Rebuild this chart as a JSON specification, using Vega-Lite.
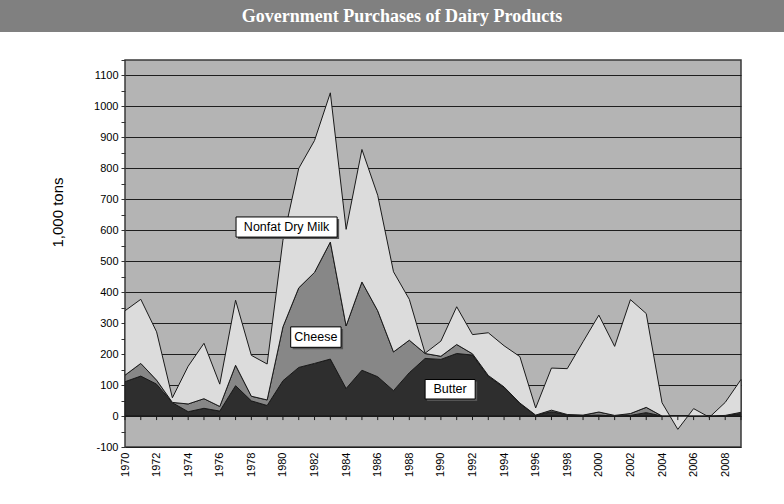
{
  "$schema": "https://vega.github.io/schema/vega-lite/v6.json",
  "padding": 0,
  "background": "white",
  "bounds": "flush",
  "spacing": 28,
  "config": {"view": {"stroke": null}, "font": "Liberation Sans", "axis": {"labelOverlap": false}},
  "datasets": {
    "dairy": [
      {"year":1970,"product":"Butter","tons":111},{"year":1970,"product":"Cheese","tons":21},{"year":1970,"product":"Nonfat Dry Milk","tons":208},
      {"year":1971,"product":"Butter","tons":129},{"year":1971,"product":"Cheese","tons":41},{"year":1971,"product":"Nonfat Dry Milk","tons":207},
      {"year":1972,"product":"Butter","tons":103},{"year":1972,"product":"Cheese","tons":13},{"year":1972,"product":"Nonfat Dry Milk","tons":156},
      {"year":1973,"product":"Butter","tons":43},{"year":1973,"product":"Cheese","tons":1},{"year":1973,"product":"Nonfat Dry Milk","tons":15},
      {"year":1974,"product":"Butter","tons":14},{"year":1974,"product":"Cheese","tons":25},{"year":1974,"product":"Nonfat Dry Milk","tons":122},
      {"year":1975,"product":"Butter","tons":25},{"year":1975,"product":"Cheese","tons":31},{"year":1975,"product":"Nonfat Dry Milk","tons":179},
      {"year":1976,"product":"Butter","tons":16},{"year":1976,"product":"Cheese","tons":15},{"year":1976,"product":"Nonfat Dry Milk","tons":72},
      {"year":1977,"product":"Butter","tons":98},{"year":1977,"product":"Cheese","tons":66},{"year":1977,"product":"Nonfat Dry Milk","tons":210},
      {"year":1978,"product":"Butter","tons":49},{"year":1978,"product":"Cheese","tons":15},{"year":1978,"product":"Nonfat Dry Milk","tons":132},
      {"year":1979,"product":"Butter","tons":34},{"year":1979,"product":"Cheese","tons":18},{"year":1979,"product":"Nonfat Dry Milk","tons":116},
      {"year":1980,"product":"Butter","tons":114},{"year":1980,"product":"Cheese","tons":174},{"year":1980,"product":"Nonfat Dry Milk","tons":280},
      {"year":1981,"product":"Butter","tons":157},{"year":1981,"product":"Cheese","tons":257},{"year":1981,"product":"Nonfat Dry Milk","tons":386},
      {"year":1982,"product":"Butter","tons":170},{"year":1982,"product":"Cheese","tons":294},{"year":1982,"product":"Nonfat Dry Milk","tons":426},
      {"year":1983,"product":"Butter","tons":184},{"year":1983,"product":"Cheese","tons":378},{"year":1983,"product":"Nonfat Dry Milk","tons":482},
      {"year":1984,"product":"Butter","tons":89},{"year":1984,"product":"Cheese","tons":202},{"year":1984,"product":"Nonfat Dry Milk","tons":312},
      {"year":1985,"product":"Butter","tons":148},{"year":1985,"product":"Cheese","tons":285},{"year":1985,"product":"Nonfat Dry Milk","tons":428},
      {"year":1986,"product":"Butter","tons":127},{"year":1986,"product":"Cheese","tons":213},{"year":1986,"product":"Nonfat Dry Milk","tons":373},
      {"year":1987,"product":"Butter","tons":82},{"year":1987,"product":"Cheese","tons":125},{"year":1987,"product":"Nonfat Dry Milk","tons":259},
      {"year":1988,"product":"Butter","tons":140},{"year":1988,"product":"Cheese","tons":105},{"year":1988,"product":"Nonfat Dry Milk","tons":132},
      {"year":1989,"product":"Butter","tons":186},{"year":1989,"product":"Cheese","tons":16},{"year":1989,"product":"Nonfat Dry Milk","tons":1},
      {"year":1990,"product":"Butter","tons":183},{"year":1990,"product":"Cheese","tons":10},{"year":1990,"product":"Nonfat Dry Milk","tons":49},
      {"year":1991,"product":"Butter","tons":202},{"year":1991,"product":"Cheese","tons":29},{"year":1991,"product":"Nonfat Dry Milk","tons":122},
      {"year":1992,"product":"Butter","tons":197},{"year":1992,"product":"Cheese","tons":4},{"year":1992,"product":"Nonfat Dry Milk","tons":62},
      {"year":1993,"product":"Butter","tons":128},{"year":1993,"product":"Cheese","tons":3},{"year":1993,"product":"Nonfat Dry Milk","tons":138},
      {"year":1994,"product":"Butter","tons":92},{"year":1994,"product":"Cheese","tons":2},{"year":1994,"product":"Nonfat Dry Milk","tons":133},
      {"year":1995,"product":"Butter","tons":41},{"year":1995,"product":"Cheese","tons":1},{"year":1995,"product":"Nonfat Dry Milk","tons":150},
      {"year":1996,"product":"Butter","tons":2},{"year":1996,"product":"Cheese","tons":1},{"year":1996,"product":"Nonfat Dry Milk","tons":23},
      {"year":1997,"product":"Butter","tons":14},{"year":1997,"product":"Cheese","tons":5},{"year":1997,"product":"Nonfat Dry Milk","tons":136},
      {"year":1998,"product":"Butter","tons":4},{"year":1998,"product":"Cheese","tons":1},{"year":1998,"product":"Nonfat Dry Milk","tons":148},
      {"year":1999,"product":"Butter","tons":2},{"year":1999,"product":"Cheese","tons":1},{"year":1999,"product":"Nonfat Dry Milk","tons":237},
      {"year":2000,"product":"Butter","tons":3},{"year":2000,"product":"Cheese","tons":10},{"year":2000,"product":"Nonfat Dry Milk","tons":313},
      {"year":2001,"product":"Butter","tons":0},{"year":2001,"product":"Cheese","tons":2},{"year":2001,"product":"Nonfat Dry Milk","tons":223},
      {"year":2002,"product":"Butter","tons":2},{"year":2002,"product":"Cheese","tons":6},{"year":2002,"product":"Nonfat Dry Milk","tons":368},
      {"year":2003,"product":"Butter","tons":11},{"year":2003,"product":"Cheese","tons":17},{"year":2003,"product":"Nonfat Dry Milk","tons":303},
      {"year":2004,"product":"Butter","tons":0},{"year":2004,"product":"Cheese","tons":0},{"year":2004,"product":"Nonfat Dry Milk","tons":43},
      {"year":2005,"product":"Butter","tons":0},{"year":2005,"product":"Cheese","tons":0},{"year":2005,"product":"Nonfat Dry Milk","tons":-43},
      {"year":2006,"product":"Butter","tons":0},{"year":2006,"product":"Cheese","tons":0},{"year":2006,"product":"Nonfat Dry Milk","tons":24},
      {"year":2007,"product":"Butter","tons":0},{"year":2007,"product":"Cheese","tons":0},{"year":2007,"product":"Nonfat Dry Milk","tons":-4},
      {"year":2008,"product":"Butter","tons":1},{"year":2008,"product":"Cheese","tons":1},{"year":2008,"product":"Nonfat Dry Milk","tons":42},
      {"year":2009,"product":"Butter","tons":8},{"year":2009,"product":"Cheese","tons":4},{"year":2009,"product":"Nonfat Dry Milk","tons":106}
    ],
    "labels": [
      {"label":"Nonfat Dry Milk","x1":1977.03,"x2":1983.43,"y1":578,"y2":643,"xc":1980.23,"yc":610},
      {"label":"Cheese","x1":1980.49,"x2":1983.68,"y1":222,"y2":288,"xc":1982.08,"yc":255},
      {"label":"Butter","x1":1989.0,"x2":1992.17,"y1":55,"y2":118,"xc":1990.58,"yc":86}
    ]
  },
  "vconcat": [
    {
      "width": 784,
      "height": 32,
      "view": {"fill": "#808080", "stroke": null},
      "data": {"values": [{"title": "Government Purchases of Dairy Products"}]},
      "mark": {"type": "text", "font": "Liberation Serif", "fontWeight": "bold", "fontSize": 18, "color": "white", "dx": 10, "dy": 1},
      "encoding": {"text": {"field": "title"}}
    },
    {
      "hconcat": [
        {
          "width": 125,
          "height": 387,
          "view": {"stroke": null},
          "data": {"values": []},
          "mark": "point"
        },
        {
          "width": 616,
          "height": 387,
          "view": {"fill": "#b4b4b4", "stroke": "#3a3a3a", "strokeWidth": 1.5},
          "layer": [
            {
              "data": {"name": "dairy"},
              "mark": {"type": "area", "opacity": 1, "fillOpacity": 1, "stroke": "#1a1a1a", "strokeWidth": 1, "strokeJoin": "miter"},
              "encoding": {
                "x": {
                  "field": "year", "type": "quantitative",
                  "scale": {"domain": [1970, 2009], "nice": false, "zero": false},
                  "axis": {
                    "title": null,
                    "values": [1970,1972,1974,1976,1978,1980,1982,1984,1986,1988,1990,1992,1994,1996,1998,2000,2002,2004,2006,2008],
                    "tickCount": 100,
                    "labelExpr": "'' + datum.value",
                    "labelOverlap": false,
                    "labelAngle": -90,
                    "labelAlign": "right",
                    "labelBaseline": "middle",
                    "labelFontSize": 11,
                    "labelColor": "#000",
                    "labelPadding": 5,
                    "ticks": false,
                    "domain": false,
                    "grid": false
                  }
                },
                "y": {
                  "field": "tons", "type": "quantitative", "stack": "zero",
                  "scale": {"domain": [-100, 1150], "nice": false, "zero": false},
                  "axis": {
                    "title": "1,000 tons",
                    "titleFontSize": 15,
                    "titleFontWeight": "normal",
                    "titleColor": "#000",
                    "titleX": -60,
                    "titleY": 152,
                    "values": [-100,-50,0,50,100,150,200,250,300,350,400,450,500,550,600,650,700,750,800,850,900,950,1000,1050,1100,1150],
                    "tickCount": 100,
                    "labelExpr": "datum.value % 100 === 0 && datum.value <= 1100 ? '' + datum.value : ''",
                    "labelOverlap": false,
                    "labelFontSize": 11,
                    "labelColor": "#000",
                    "labelPadding": 3,
                    "tickSize": 4,
                    "tickColor": "#333",
                    "domain": false,
                    "grid": true,
                    "gridColor": "#1e1e1e",
                    "gridWidth": 1,
                    "gridOpacity": {"condition": {"test": "datum.value % 100 !== 0", "value": 0}, "value": 1}
                  }
                },
                "fill": {
                  "field": "product", "type": "nominal",
                  "scale": {"domain": ["Butter", "Cheese", "Nonfat Dry Milk"], "range": ["#2e2e2e", "#878787", "#dcdcdc"]},
                  "legend": null
                },
                "order": {"field": "product", "sort": "ascending"}
              }
            },
            {
              "data": {"values": [{"v": 0}]},
              "mark": {"type": "rule", "color": "#1a1a1a", "strokeWidth": 1},
              "encoding": {"y": {"field": "v", "type": "quantitative"}}
            },
            {
              "data": {"name": "dairy"},
              "transform": [{"filter": "datum.product === 'Butter'"}],
              "mark": {"type": "rule", "color": "#1a1a1a", "strokeWidth": 1},
              "encoding": {
                "x": {"field": "year", "type": "quantitative"},
                "y": {"datum": 0},
                "y2": {"datum": -13}
              }
            },
            {
              "data": {"name": "labels"},
              "mark": {"type": "rect", "fill": "#555555", "xOffset": 2, "x2Offset": 2, "yOffset": 2, "y2Offset": 2},
              "encoding": {
                "x": {"field": "x1", "type": "quantitative"},
                "x2": {"field": "x2"},
                "y": {"field": "y1", "type": "quantitative"},
                "y2": {"field": "y2"}
              }
            },
            {
              "data": {"name": "labels"},
              "mark": {"type": "rect", "fill": "white", "stroke": "#000", "strokeWidth": 1},
              "encoding": {
                "x": {"field": "x1", "type": "quantitative"},
                "x2": {"field": "x2"},
                "y": {"field": "y1", "type": "quantitative"},
                "y2": {"field": "y2"}
              }
            },
            {
              "data": {"name": "labels"},
              "mark": {"type": "text", "fontSize": 12.5, "color": "#000", "align": "center", "baseline": "middle"},
              "encoding": {
                "x": {"field": "xc", "type": "quantitative"},
                "y": {"field": "yc", "type": "quantitative"},
                "text": {"field": "label"}
              }
            }
          ]
        }
      ],
      "spacing": 0,
      "bounds": "flush"
    }
  ]
}
